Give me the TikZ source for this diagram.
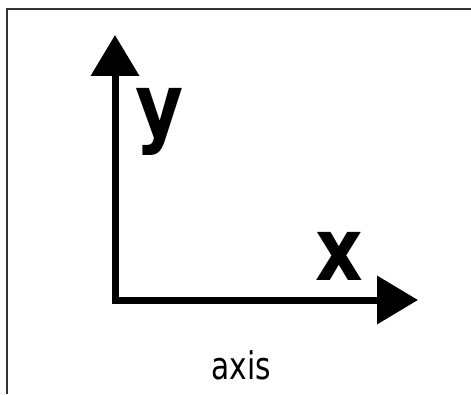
\documentclass[tikz,border=0pt]{standalone}
\usepackage{fontspec}
\setmainfont{DejaVu Sans}
\usetikzlibrary{arrows.meta}
\definecolor{frame}{HTML}{333333}
\tikzset{
  axisline/.style={line width=7pt,line join=miter,
    {Triangle[length=41pt,width=47pt]}-{Triangle[length=41pt,width=47pt]}},
  border/.style={draw=frame,line width=2pt},
  axlabel/.style={inner sep=0pt,font=\fontsize{88}{88}\selectfont\bfseries,xscale=.84},
  caption/.style={inner sep=0pt,font=\fontsize{38}{38}\selectfont,xscale=.78}}
\begin{document}
\begin{tikzpicture}[x=1pt,y=1pt]
\useasboundingbox(0,0)rectangle(471,394);
\draw[border](471,385)--(7,385)--(7,0);
\coordinate(origin)at(115,94);
\coordinate(ytip)at(115,359);\coordinate(xtip)at(418,94);
\draw[axisline](ytip)--(origin)--(xtip);
\node[axlabel](ylabel)at(160,272){y};
\node[axlabel](xlabel)at(339,138){x};
\node[caption](title)at(241,29){axis};
\end{tikzpicture}
\end{document}
